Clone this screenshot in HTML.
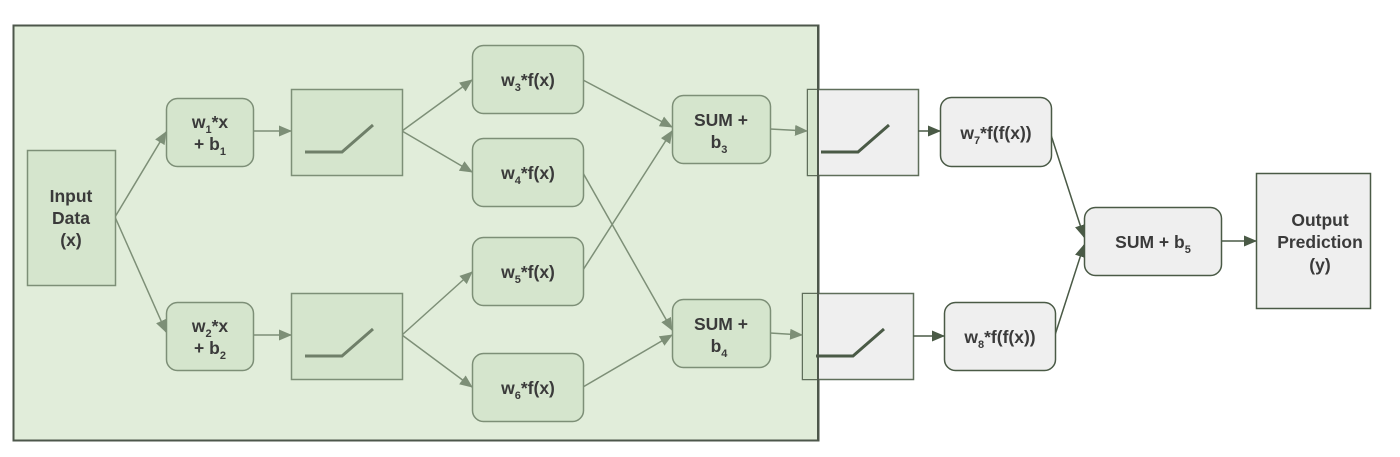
<!DOCTYPE html>
<html><head><meta charset="utf-8">
<style>
html,body{margin:0;padding:0;background:#fff;}
svg{display:block;}
text{font-family:"Liberation Sans",Arial,sans-serif;font-weight:bold;fill:#3a3a3a;font-size:17.5px;}
.sub{font-size:11px;}
</style></head>
<body>
<svg width="1400" height="457" viewBox="0 0 1400 457" xmlns="http://www.w3.org/2000/svg">
<defs>
<marker id="ag" markerWidth="13" markerHeight="11" refX="12" refY="5.5" orient="auto" markerUnits="userSpaceOnUse">
<path d="M0,0 L13,5.5 L0,11 Z" fill="#7d8f77"/></marker>
<marker id="ad" markerWidth="13" markerHeight="11" refX="12" refY="5.5" orient="auto" markerUnits="userSpaceOnUse">
<path d="M0,0 L13,5.5 L0,11 Z" fill="#4a5a46"/></marker>
</defs>

<rect x="13.5" y="25.5" width="805" height="415" fill="#e1edda" stroke="#4d574b" stroke-width="2"/>

<g>
<rect x="807.5" y="89.5" width="111" height="86" fill="#efefef" stroke="#5f6e5a" stroke-width="1.5"/>
<rect x="808" y="90" width="10" height="85" fill="#d5e5cd"/>
<polyline points="821,152 858,152 889,125" fill="none" stroke="#4a5a46" stroke-width="3"/>
</g>
<g>
<rect x="802.5" y="293.5" width="111" height="86" fill="#efefef" stroke="#5f6e5a" stroke-width="1.5"/>
<rect x="803" y="294" width="15" height="85" fill="#d5e5cd"/>
<polyline points="816,356 853,356 884,329" fill="none" stroke="#4a5a46" stroke-width="3"/>
</g>
<line x1="818" y1="25" x2="818" y2="441" stroke="#4d574b" stroke-width="2"/>

<g stroke="#7d8f77" stroke-width="1.5" fill="none">
<line x1="115" y1="217" x2="166" y2="132" marker-end="url(#ag)"/>
<line x1="115" y1="217" x2="166" y2="332" marker-end="url(#ag)"/>
<line x1="253" y1="131" x2="291" y2="131" marker-end="url(#ag)"/>
<line x1="253" y1="335" x2="291" y2="335" marker-end="url(#ag)"/>
<line x1="402" y1="131" x2="472" y2="80" marker-end="url(#ag)"/>
<line x1="402" y1="131" x2="472" y2="172" marker-end="url(#ag)"/>
<line x1="402" y1="335" x2="472" y2="272" marker-end="url(#ag)"/>
<line x1="402" y1="335" x2="472" y2="387" marker-end="url(#ag)"/>
<line x1="583" y1="80" x2="672" y2="127" marker-end="url(#ag)"/>
<line x1="583" y1="270" x2="672" y2="131" marker-end="url(#ag)"/>
<line x1="583" y1="173" x2="672" y2="330" marker-end="url(#ag)"/>
<line x1="583" y1="387" x2="672" y2="335" marker-end="url(#ag)"/>
<line x1="770" y1="129" x2="807" y2="131" marker-end="url(#ag)"/>
<line x1="770" y1="333" x2="802" y2="335" marker-end="url(#ag)"/>
</g>
<g stroke="#4a5a46" stroke-width="1.5" fill="none">
<line x1="918" y1="131" x2="940" y2="131" marker-end="url(#ad)"/>
<line x1="913" y1="336" x2="944" y2="336" marker-end="url(#ad)"/>
<line x1="1051" y1="135" x2="1084" y2="237" marker-end="url(#ad)"/>
<line x1="1055" y1="335" x2="1084" y2="245" marker-end="url(#ad)"/>
<line x1="1221" y1="241" x2="1256" y2="241" marker-end="url(#ad)"/>
</g>

<g fill="#d5e5cd" stroke="#7d8f77" stroke-width="1.5">
<rect x="27.5" y="150.5" width="88" height="135"/>
<rect x="166.5" y="98.5" width="87" height="68" rx="11"/>
<rect x="166.5" y="302.5" width="87" height="68" rx="11"/>
<rect x="291.5" y="89.5" width="111" height="86"/>
<rect x="291.5" y="293.5" width="111" height="86"/>
<rect x="472.5" y="45.5" width="111" height="68" rx="11"/>
<rect x="472.5" y="138.5" width="111" height="68" rx="11"/>
<rect x="472.5" y="237.5" width="111" height="68" rx="11"/>
<rect x="472.5" y="353.5" width="111" height="68" rx="11"/>
<rect x="672.5" y="95.5" width="98" height="68" rx="11"/>
<rect x="672.5" y="299.5" width="98" height="68" rx="11"/>
</g>
<polyline points="305,152 342,152 373,125" fill="none" stroke="#6f7f69" stroke-width="3"/>
<polyline points="305,356 342,356 373,329" fill="none" stroke="#6f7f69" stroke-width="3"/>

<g fill="#efefef" stroke="#4a5a46" stroke-width="1.5">
<rect x="940.5" y="97.5" width="111" height="69" rx="11"/>
<rect x="944.5" y="302.5" width="111" height="68" rx="11"/>
<rect x="1084.5" y="207.5" width="137" height="68" rx="11"/>
<rect x="1256.5" y="173.5" width="114" height="135"/>
</g>

<g text-anchor="middle">
<text x="71" y="202">Input</text>
<text x="71" y="224">Data</text>
<text x="71" y="246">(x)</text>

<text x="210" y="128">w<tspan class="sub" dy="5">1</tspan><tspan dy="-5">*x</tspan></text>
<text x="210" y="150">+ b<tspan class="sub" dy="5">1</tspan></text>
<text x="210" y="332">w<tspan class="sub" dy="5">2</tspan><tspan dy="-5">*x</tspan></text>
<text x="210" y="354">+ b<tspan class="sub" dy="5">2</tspan></text>

<text x="528" y="86">w<tspan class="sub" dy="5">3</tspan><tspan dy="-5">*f(x)</tspan></text>
<text x="528" y="179">w<tspan class="sub" dy="5">4</tspan><tspan dy="-5">*f(x)</tspan></text>
<text x="528" y="278">w<tspan class="sub" dy="5">5</tspan><tspan dy="-5">*f(x)</tspan></text>
<text x="528" y="394">w<tspan class="sub" dy="5">6</tspan><tspan dy="-5">*f(x)</tspan></text>

<text x="721" y="126">SUM +</text>
<text x="719" y="148">b<tspan class="sub" dy="5">3</tspan></text>
<text x="721" y="330">SUM +</text>
<text x="719" y="352">b<tspan class="sub" dy="5">4</tspan></text>

<text x="996" y="139">w<tspan class="sub" dy="5">7</tspan><tspan dy="-5">*f(f(x))</tspan></text>
<text x="1000" y="343">w<tspan class="sub" dy="5">8</tspan><tspan dy="-5">*f(f(x))</tspan></text>
<text x="1153" y="248">SUM + b<tspan class="sub" dy="5">5</tspan></text>

<text x="1320" y="226">Output</text>
<text x="1320" y="248">Prediction</text>
<text x="1320" y="271">(y)</text>
</g>
</svg>
</body></html>
